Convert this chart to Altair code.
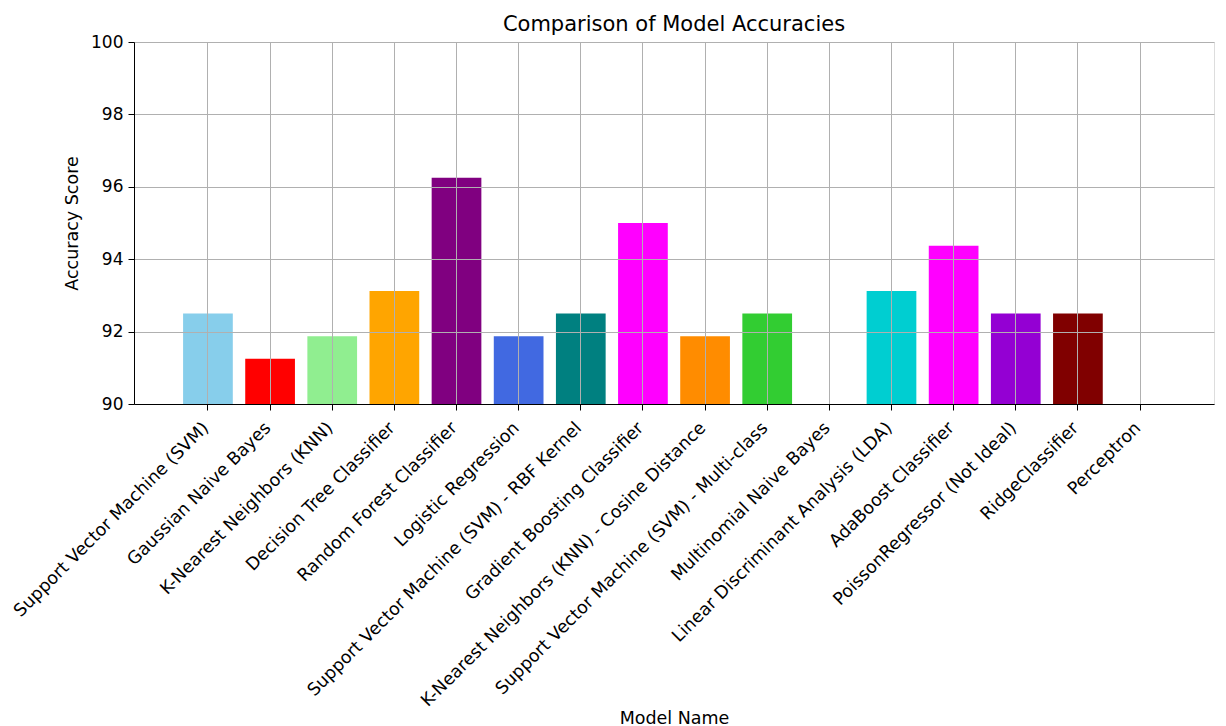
import altair as alt
import pandas as pd

models = [
    "Support Vector Machine (SVM)",
    "Gaussian Naive Bayes",
    "K-Nearest Neighbors (KNN)",
    "Decision Tree Classifier",
    "Random Forest Classifier",
    "Logistic Regression",
    "Support Vector Machine (SVM) - RBF Kernel",
    "Gradient Boosting Classifier",
    "K-Nearest Neighbors (KNN) - Cosine Distance",
    "Support Vector Machine (SVM) - Multi-class",
    "Multinomial Naive Bayes",
    "Linear Discriminant Analysis (LDA)",
    "AdaBoost Classifier",
    "PoissonRegressor (Not Ideal)",
    "RidgeClassifier",
    "Perceptron",
]
accuracies = [92.5, 91.25, 91.875, 93.125, 96.25, 91.875, 92.5, 95.0,
              91.875, 92.5, 86.25, 93.125, 94.375, 92.5, 92.5, 80.0]
colors = ["skyblue", "red", "lightgreen", "orange", "purple", "royalblue",
          "teal", "magenta", "darkorange", "limegreen", "gold", "darkturquoise",
          "fuchsia", "darkviolet", "maroon", "gray"]
y_ticks = [90, 92, 94, 96, 98, 100]

df = pd.DataFrame({"Model": models, "Accuracy": accuracies, "Color": colors})

FONT = "DejaVu Sans"
FS = 17.5

bars = alt.Chart(df).mark_bar(clip=True).encode(
    x=alt.X(
        "Model:N",
        sort=None,
        title="Model Name",
        scale=alt.Scale(paddingInner=0.2, paddingOuter=0.79),
        axis=alt.Axis(
            labelAngle=-45,
            labelAlign="right",
            labelBaseline="middle",
            labelLimit=600,
            labelFontSize=FS,
            labelColor="black",
            labelFont=FONT,
            labelPadding=15,
            labelOffset=-2,
            tickSize=6,
            tickColor="black",
            domainColor="black",
            grid=True,
            gridColor="#b0b0b0",
            gridWidth=1,
            bandPosition=0.5,
            titleFontSize=FS,
            titleFont=FONT,
            titleFontWeight="normal",
            titleColor="black",
            titleY=314,
            titleBaseline="middle",
            zindex=1,
        ),
    ),
    y=alt.Y(
        "Accuracy:Q",
        title="Accuracy Score",
        scale=alt.Scale(domain=[90, 100], nice=False, zero=False),
        axis=alt.Axis(
            values=y_ticks,
            labelFontSize=17,
            labelColor="black",
            labelFont=FONT,
            labelPadding=5,
            tickSize=6,
            tickColor="black",
            domainColor="black",
            grid=True,
            gridColor="#b0b0b0",
            gridWidth=1,
            titleFontSize=FS,
            titleFont=FONT,
            titleFontWeight="normal",
            titleColor="black",
            titleX=-62,
            titleBaseline="middle",
            zindex=1,
        ),
    ),
    color=alt.Color("Color:N", scale=None),
).properties(
    width=1080,
    height=362,
    title=alt.TitleParams(
        "Comparison of Model Accuracies",
        font=FONT,
        fontSize=21,
        fontWeight="normal",
        color="black",
        anchor="middle",
        offset=-2,
    ),
    autosize=alt.AutoSizeParams(type="none"),
    padding={"left": 134, "top": 42, "right": 12, "bottom": 322},
).configure_view(stroke="black", strokeWidth=1).configure(background="white")

bars.save("out.html", embed_options={"renderer": "svg", "actions": False})
